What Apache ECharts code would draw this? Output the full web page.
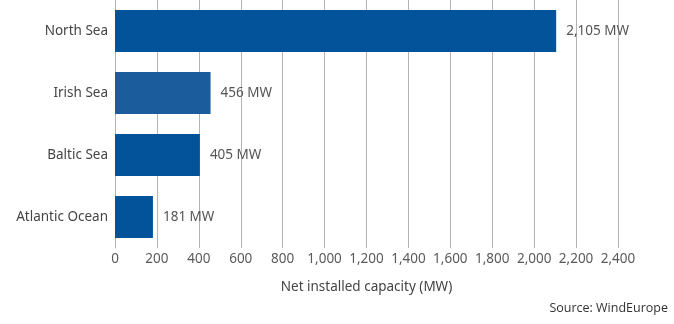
<!DOCTYPE html>
<html><head><meta charset="utf-8">
<script src="https://cdn.jsdelivr.net/npm/echarts@6/dist/echarts.min.js"></script>
<style>html,body{margin:0;padding:0;background:#fff}#c{width:674px;height:324px}</style>
</head><body><div id="c"></div>
<script>
const categories = ['North Sea', 'Irish Sea', 'Baltic Sea', 'Atlantic Ocean'];
const values = [2105, 456, 405, 181];
const barColors = ['#02539a', '#1a5c9c', '#02539a', '#02539a'];
const axisName = 'Net installed capacity (MW)';
const sourceText = 'Source: WindEurope';

const chart = echarts.init(document.getElementById('c'));
const font = '"Noto Sans", sans-serif';
chart.setOption({
  animation: false,
  grid: { left: 115, right: 56, top: -3, height: 251, containLabel: false },
  xAxis: {
    type: 'value', min: 0, max: 2400, interval: 200,
    axisLine: { show: false }, axisTick: { show: false },
    splitLine: { show: true, lineStyle: { color: '#b4b4b4', width: 1 } },
    axisLabel: { color: '#5a5a5a', fontSize: 13.5, fontFamily: font, margin: 4,
      formatter: v => v.toLocaleString('en-US') },
    name: axisName, nameLocation: 'middle', nameGap: 32,
    nameTextStyle: { color: '#444', fontSize: 13.5, fontFamily: font }
  },
  yAxis: {
    type: 'category', data: categories, inverse: true,
    axisLine: { show: true, lineStyle: { color: '#b4b4b4' } }, axisTick: { show: false },
    axisLabel: { color: '#444', fontSize: 13.5, fontFamily: font, margin: 7 }
  },
  graphic: [{
    type: 'text', right: 6, top: 302,
    style: { text: sourceText, fill: '#333', fontSize: 12.5, fontFamily: '"Open Sans", sans-serif' }
  }],
  series: [{
    type: 'bar', barWidth: 42,
    data: values.map((v, i) => ({ value: v, itemStyle: { color: barColors[i] } })),
    label: { show: true, position: 'right', distance: 10, color: '#555', fontSize: 13.5,
      fontFamily: font, formatter: p => p.value.toLocaleString('en-US') + ' MW' }
  }]
});
</script></body></html>
